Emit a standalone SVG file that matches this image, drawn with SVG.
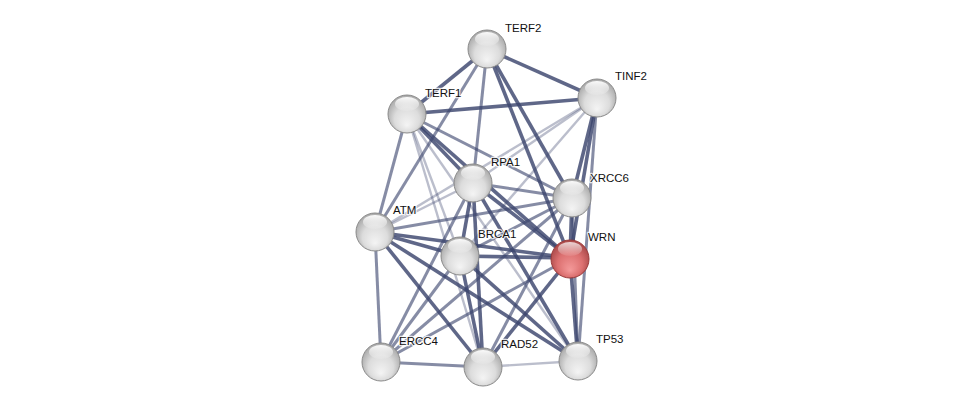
<svg xmlns="http://www.w3.org/2000/svg" width="976" height="412" viewBox="0 0 976 412">
<style>
.e{stroke:#3c466e;fill:none;stroke-linecap:butt}
.t{stroke-width:3.6;stroke-opacity:0.82}
.m{stroke-width:3;stroke-opacity:0.62}
.l{stroke-width:2.4;stroke-opacity:0.35}
.n{stroke:#8a8a8a;stroke-width:1}
.lbl{font-family:"Liberation Sans",Arial,sans-serif;font-size:11.5px;fill:#111;stroke:#fff;stroke-width:2.5;stroke-opacity:0.8;paint-order:stroke;stroke-linejoin:round}
</style>
<defs>
<radialGradient id="g" cx="50%" cy="55%" r="55%" fx="50%" fy="80%">
<stop offset="0" stop-color="#f4f4f4"/>
<stop offset="0.6" stop-color="#dcdcdc"/>
<stop offset="1" stop-color="#a8a8a8"/>
</radialGradient>
<radialGradient id="gr" cx="50%" cy="55%" r="55%" fx="50%" fy="80%">
<stop offset="0" stop-color="#f49a9a"/>
<stop offset="0.6" stop-color="#dc7070"/>
<stop offset="1" stop-color="#a84848"/>
</radialGradient>
<linearGradient id="hl" x1="0" y1="0" x2="0" y2="1">
<stop offset="0" stop-color="#fff" stop-opacity="0.95"/>
<stop offset="1" stop-color="#fff" stop-opacity="0.1"/>
</linearGradient>
<g id="sph"><circle r="19" fill="url(#g)" class="n"/><ellipse cx="0" cy="-10" rx="12" ry="7" fill="url(#hl)"/></g>
<g id="sphr"><circle r="19" fill="url(#gr)" stroke="#9a3a3a" stroke-width="1"/><ellipse cx="0" cy="-10" rx="12" ry="7" fill="url(#hl)" opacity="0.8"/></g>
</defs>
<rect width="976" height="412" fill="#fff"/>
<g id="edges">
<line class="e t" x1="487" y1="49" x2="407" y2="114"/>
<line class="e t" x1="487" y1="49" x2="597" y2="98"/>
<line class="e m" x1="487" y1="49" x2="473" y2="183"/>
<line class="e m" x1="487" y1="49" x2="375" y2="232"/>
<line class="e t" x1="487" y1="49" x2="572" y2="198"/>
<line class="e t" x1="487" y1="49" x2="570" y2="258"/>
<line class="e t" x1="597" y1="98" x2="407" y2="114"/>
<line class="e l" x1="597" y1="98" x2="473" y2="183"/>
<line class="e t" x1="597" y1="98" x2="572" y2="198"/>
<line class="e t" x1="597" y1="98" x2="570" y2="258"/>
<line class="e l" x1="597" y1="98" x2="460" y2="256"/>
<line class="e l" x1="597" y1="98" x2="375" y2="232"/>
<line class="e m" x1="597" y1="98" x2="578" y2="361"/>
<line class="e m" x1="407" y1="114" x2="375" y2="232"/>
<line class="e t" x1="407" y1="114" x2="473" y2="183"/>
<line class="e m" x1="407" y1="114" x2="572" y2="198"/>
<line class="e l" x1="407" y1="114" x2="460" y2="256"/>
<line class="e t" x1="407" y1="114" x2="570" y2="258"/>
<line class="e l" x1="407" y1="114" x2="483" y2="367"/>
<line class="e l" x1="407" y1="114" x2="578" y2="361"/>
<line class="e l" x1="473" y1="183" x2="375" y2="232"/>
<line class="e m" x1="473" y1="183" x2="572" y2="198"/>
<line class="e t" x1="473" y1="183" x2="460" y2="256"/>
<line class="e t" x1="473" y1="183" x2="570" y2="258"/>
<line class="e m" x1="473" y1="183" x2="381" y2="362"/>
<line class="e t" x1="473" y1="183" x2="483" y2="367"/>
<line class="e t" x1="473" y1="183" x2="578" y2="361"/>
<line class="e m" x1="572" y1="198" x2="375" y2="232"/>
<line class="e t" x1="572" y1="198" x2="570" y2="258"/>
<line class="e m" x1="572" y1="198" x2="460" y2="256"/>
<line class="e m" x1="572" y1="198" x2="381" y2="362"/>
<line class="e m" x1="572" y1="198" x2="483" y2="367"/>
<line class="e m" x1="572" y1="198" x2="578" y2="361"/>
<line class="e t" x1="375" y1="232" x2="460" y2="256"/>
<line class="e t" x1="375" y1="232" x2="570" y2="258"/>
<line class="e m" x1="375" y1="232" x2="381" y2="362"/>
<line class="e t" x1="375" y1="232" x2="483" y2="367"/>
<line class="e t" x1="375" y1="232" x2="578" y2="361"/>
<line class="e t" x1="460" y1="256" x2="570" y2="258"/>
<line class="e m" x1="460" y1="256" x2="381" y2="362"/>
<line class="e t" x1="460" y1="256" x2="483" y2="367"/>
<line class="e t" x1="460" y1="256" x2="578" y2="361"/>
<line class="e m" x1="570" y1="258" x2="381" y2="362"/>
<line class="e t" x1="570" y1="258" x2="483" y2="367"/>
<line class="e t" x1="570" y1="258" x2="578" y2="361"/>
<line class="e m" x1="381" y1="362" x2="483" y2="367"/>
<line class="e l" x1="483" y1="367" x2="578" y2="361"/>
</g>
<g id="TERF2"><use href="#sph" x="487" y="49"/><text class="lbl" x="505" y="32">TERF2</text></g>
<g id="TINF2"><use href="#sph" x="597" y="98"/><text class="lbl" x="615" y="80">TINF2</text></g>
<g id="TERF1"><use href="#sph" x="407" y="114"/><text class="lbl" x="425" y="97">TERF1</text></g>
<g id="RPA1"><use href="#sph" x="473" y="183"/><text class="lbl" x="491" y="166">RPA1</text></g>
<g id="XRCC6"><use href="#sph" x="572" y="198"/><text class="lbl" x="590" y="182">XRCC6</text></g>
<g id="ATM"><use href="#sph" x="375" y="232"/><text class="lbl" x="393" y="214">ATM</text></g>
<g id="BRCA1"><use href="#sph" x="460" y="256"/><text class="lbl" x="478" y="238">BRCA1</text></g>
<g id="WRN"><use href="#sphr" x="570" y="259"/><text class="lbl" x="588" y="241">WRN</text></g>
<g id="ERCC4"><use href="#sph" x="381" y="362"/><text class="lbl" x="399" y="345">ERCC4</text></g>
<g id="RAD52"><use href="#sph" x="483" y="367"/><text class="lbl" x="501" y="348">RAD52</text></g>
<g id="TP53"><use href="#sph" x="578" y="361"/><text class="lbl" x="596" y="343">TP53</text></g>
</svg>
